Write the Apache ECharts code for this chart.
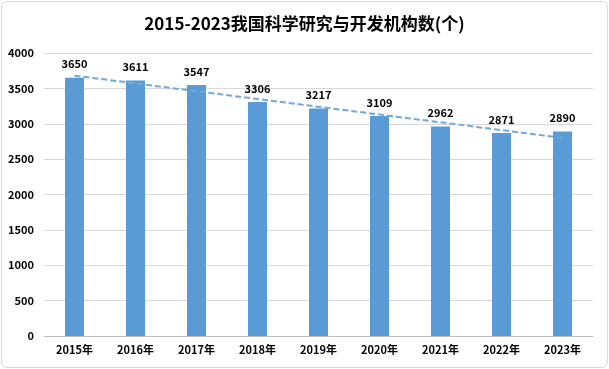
<!DOCTYPE html>
<html><head><meta charset="utf-8">
<script src="https://cdn.jsdelivr.net/npm/echarts@6/dist/echarts.min.js"></script>
<style>
html,body{margin:0;padding:0;background:#fff;}
#wrap{position:absolute;left:1px;top:1px;width:605px;height:365px;border:1px solid #d9d9d9;border-radius:6px;overflow:hidden;background:#fff;}
#c{width:605px;height:365px;}
</style></head>
<body><div id="wrap"><div id="c"></div></div>
<script>
const categories = ['2015年','2016年','2017年','2018年','2019年','2020年','2021年','2022年','2023年'];
const values = [3650, 3611, 3547, 3306, 3217, 3109, 2962, 2871, 2890];
const trendEnds = [3680, 2800];
const yTicks = {min: 0, max: 4000, interval: 500};
const titleText = '2015-2023我国科学研究与开发机构数(个)';

const trend = categories.map((c, i) => i === 0 ? trendEnds[0] : (i === categories.length - 1 ? trendEnds[1] : null));

const chart = echarts.init(document.getElementById('c'));
const font = '"Noto Sans CJK SC", "Noto Sans", sans-serif';
chart.setOption({
  animation: false,
  title: {text: titleText, left: 'center', top: 8,
    textStyle: {fontFamily: font, fontSize: 17, fontWeight: 'bold', color: '#000'}},
  grid: {left: 42, right: 14, top: 51, bottom: 31},
  xAxis: {type: 'category', data: categories,
    axisLine: {lineStyle: {color: '#bfbfbf'}}, axisTick: {show: false},
    axisLabel: {fontFamily: font, fontSize: 11, fontWeight: 'bold', color: '#000', margin: 8}},
  yAxis: {type: 'value', min: yTicks.min, max: yTicks.max, interval: yTicks.interval,
    axisLine: {show: false}, axisTick: {show: false},
    splitLine: {lineStyle: {color: '#d9d9d9'}},
    axisLabel: {fontFamily: font, fontSize: 11, fontWeight: 'bold', color: '#000', margin: 10,
      formatter: v => String(v)}},
  series: [
    {type: 'bar', data: values, barWidth: 19, itemStyle: {color: '#5B9BD5'},
      label: {show: true, position: 'top', distance: 8, fontFamily: font, fontSize: 11, fontWeight: 'bold', color: '#000'}},
    {type: 'line', data: trend, connectNulls: true, symbol: 'none', z: 5,
      lineStyle: {color: '#6FA8DC', width: 2, type: [6, 3]}}
  ]
});
</script></body></html>
